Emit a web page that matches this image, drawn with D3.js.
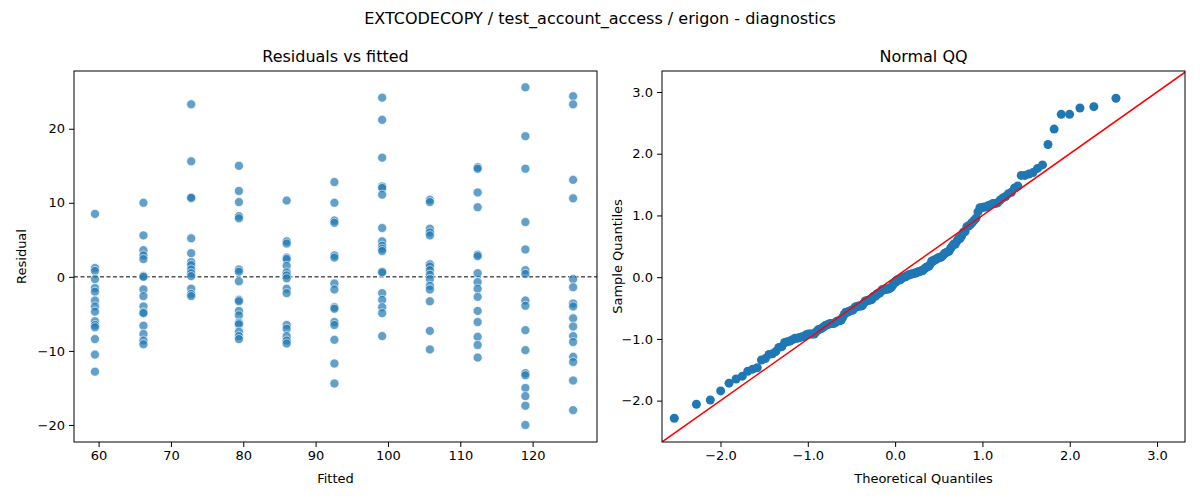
<!DOCTYPE html>
<html><head><meta charset="utf-8">
<script src="https://cdn.jsdelivr.net/npm/d3@7"></script>
<style>body{margin:0;background:#fff}text{font-family:"DejaVu Sans",sans-serif}</style>
</head><body>
<script>
// fitted level of each group and the residuals
const fitted = [59.5, 66.2, 72.8, 79.4, 86.0, 92.6, 99.2, 105.8, 112.4, 119.0, 125.6];
const residuals = [
  [8.5, 1.2, 0.8, -0.3, -1.5, -2, -3.2, -4, -4.7, -6, -6.5, -6.8, -8.4, -10.5, -12.8],
  [10, 5.6, 3.6, 2.9, 2.4, 0.1, 0, -1.7, -2.6, -4, -4.8, -4.9, -6.6, -7.7, -8.6, -9.1],
  [23.3, 15.6, 10.6, 10.7, 5.2, 3.2, 2, 1.6, 1, 0.5, 0.1, -1.6, -2.3, -2.6],
  [15, 11.6, 10.1, 8.2, 7.9, 1, 0.7, -0.6, -3.1, -3.3, -4.6, -5.2, -6.2, -6.4, -7.4, -8, -8.4],
  [10.3, 4.8, 4.5, 2.6, 2.4, 1.5, 0.6, 0.2, -0.2, -1.6, -2.2, -6.5, -7, -8, -8.6, -9],
  [12.8, 10, 7.6, 7.3, 2.9, 2.6, -0.9, -1.7, -4.1, -4.3, -6.1, -6.5, -8.5, -11.7, -14.4],
  [24.2, 21.2, 16.1, 12.2, 12, 11.1, 6.6, 4.8, 4.2, 3.8, 3.5, 0.7, 0.6, -2.2, -3.1, -4.1, -4.9, -8],
  [10.4, 10.1, 6.5, 6, 5.6, 1.7, 1.4, 0.9, 0.3, -0.3, -1.2, -1.7, -3.3, -7.3, -9.8],
  [14.8, 14.6, 11.4, 9.4, 3.0, 2.8, 0.5, -0.7, -1.6, -2.7, -4.6, -6.1, -8.1, -9.2, -10.9],
  [25.6, 19, 14.6, 7.4, 3.7, 0.9, 0.4, -3.2, -3.9, -7.2, -9.9, -13, -13.3, -15, -16.1, -17.4, -20],
  [24.4, 23.3, 13.1, 10.6, -0.3, -1.4, -3.6, -4, -5.6, -6.7, -8, -8.8, -10.8, -11.5, -14, -18]
];
const residTicks = [-20, -10, 0, 10, 20];
const fittedTicks = [60, 70, 80, 90, 100, 110, 120];
const qqTicks = [-2, -1, 0, 1, 2, 3];

const points = [];
fitted.forEach((f, i) => residuals[i].forEach(r => points.push({f, r})));

// standardized, sorted residuals vs normal quantiles
function probit(p) {
  const a=[-39.6968302866538,220.946098424521,-275.928510446969,138.357751867269,-30.6647980661472,2.50662827745924],
        b=[-54.4760987982241,161.585836858041,-155.698979859887,66.8013118877197,-13.2806815528857],
        c=[-0.00778489400243029,-0.322396458041136,-2.40075827716184,-2.54973253934373,4.37466414146497,2.93816398269878],
        d=[0.00778469570904146,0.32246712907004,2.445134137143,3.75440866190742];
  const pl=0.02425;
  if (p < pl) { const q=Math.sqrt(-2*Math.log(p)); return (((((c[0]*q+c[1])*q+c[2])*q+c[3])*q+c[4])*q+c[5])/((((d[0]*q+d[1])*q+d[2])*q+d[3])*q+1); }
  if (p > 1-pl) return -probit(1-p);
  const q=p-0.5, r=q*q;
  return (((((a[0]*r+a[1])*r+a[2])*r+a[3])*r+a[4])*r+a[5])*q/(((((b[0]*r+b[1])*r+b[2])*r+b[3])*r+b[4])*r+1);
}
const rs = points.map(p => p.r);
const m = d3.mean(rs), sd = d3.deviation(rs);
const sample = rs.map(r => (r - m) / sd).sort(d3.ascending);
const n = sample.length;
const qq = sample.map((s, i) => ({t: probit((i + 1) / (n + 1)), s}));

const svg = d3.select('body').append('svg').attr('width', 1200).attr('height', 500);

svg.append('text').attr('x', 600).attr('y', 24).attr('text-anchor', 'middle')
   .style('font-size', '16px').text('EXTCODECOPY / test_account_access / erigon - diagnostics');

function panel(x0, x1, y0, y1, xd, yd, xt, yt, title, xl, yl, ylx) {
  const x = d3.scaleLinear().domain(xd).range([x0, x1]);
  const y = d3.scaleLinear().domain(yd).range([y1, y0]);
  const g = svg.append('g');
  g.append('g').attr('transform', `translate(0,${y1})`).call(d3.axisBottom(x).tickValues(xt).tickSize(5).tickPadding(4))
   .call(a => { a.select('.domain').remove(); a.selectAll('text').style('font-size', '13px'); });
  g.append('g').attr('transform', `translate(${x0},0)`).call(d3.axisLeft(y).tickValues(yt).tickSize(5).tickPadding(4))
   .call(a => { a.select('.domain').remove(); a.selectAll('text').style('font-size', '13px'); });
  g.append('text').attr('x', (x0 + x1) / 2).attr('y', 62).attr('text-anchor', 'middle').style('font-size', '16px').text(title);
  g.append('text').attr('x', (x0 + x1) / 2).attr('y', 483).attr('text-anchor', 'middle').style('font-size', '13px').text(xl);
  g.append('text').attr('transform', `translate(${ylx},${(y0 + y1) / 2}) rotate(-90)`).attr('text-anchor', 'middle').style('font-size', '13px').text(yl);
  return {x, y, g};
}

const L = panel(74, 597, 71, 442, [56.6, 128.9], [-22.3, 27.8], fittedTicks, residTicks,
  'Residuals vs fitted', 'Fitted', 'Residual', 26);
L.g.append('line').attr('x1', 74).attr('x2', 597).attr('y1', L.y(0)).attr('y2', L.y(0))
   .attr('stroke', '#000').attr('stroke-dasharray', '4,2.5').attr('stroke-width', 1);
L.g.selectAll('circle').data(points).join('circle')
   .attr('cx', d => L.x(d.f)).attr('cy', d => L.y(d.r)).attr('r', 4.5)
   .attr('fill', '#1f77b4').attr('fill-opacity', 0.7).attr('stroke', '#fff').attr('stroke-width', 0.6);
L.g.append('rect').attr('x', 74).attr('y', 71).attr('width', 523).attr('height', 371)
   .attr('fill', 'none').attr('stroke', '#000').attr('stroke-width', 1);

const R = panel(662, 1185, 71, 442, [-2.67, 3.32], [-2.67, 3.34], qqTicks, [-2, -1, 0, 1, 2, 3],
  'Normal QQ', 'Theoretical Quantiles', 'Sample Quantiles', 622);
R.g.selectAll('circle').data(qq).join('circle')
   .attr('cx', d => R.x(d.t)).attr('cy', d => R.y(d.s)).attr('r', 4.5).attr('fill', '#1f77b4');
const lo = -2.67, hi = 3.34;
R.g.append('clipPath').attr('id', 'qc').append('rect').attr('x', 662).attr('y', 71).attr('width', 523).attr('height', 371);
R.g.append('line').attr('clip-path', 'url(#qc)')
   .attr('x1', R.x(lo)).attr('y1', R.y(lo)).attr('x2', R.x(hi)).attr('y2', R.y(hi))
   .attr('stroke', 'red').attr('stroke-width', 1.5);
R.g.append('rect').attr('x', 662).attr('y', 71).attr('width', 523).attr('height', 371)
   .attr('fill', 'none').attr('stroke', '#000').attr('stroke-width', 1);
</script>
</body></html>
